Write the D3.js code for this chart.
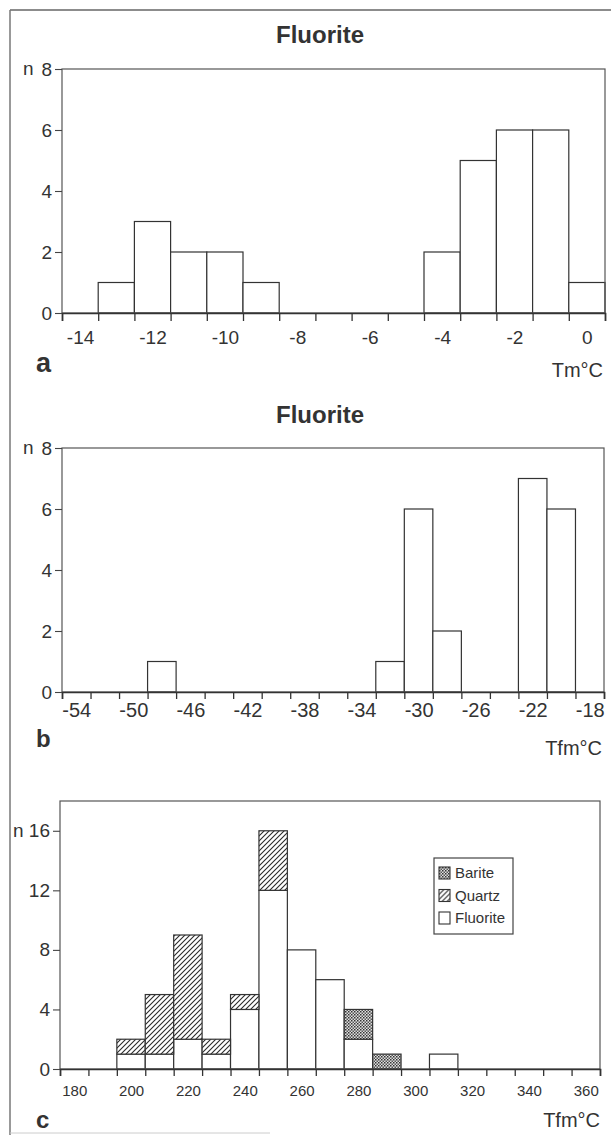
<!DOCTYPE html>
<html>
<head>
<meta charset="utf-8">
<script src="https://cdn.jsdelivr.net/npm/d3@7"></script>
<style>
body{margin:0;background:#fff;}
svg{display:block;}
text{font-family:"Liberation Sans",Arial,sans-serif;fill:#333;}
</style>
</head>
<body>
<script>
// panel a : Tm of fluorite inclusions
var aBins=[-14,-13,-12,-11,-10,-9,-8,-7,-6,-5,-4,-3,-2,-1,0];
var aCounts=[0,1,3,2,2,1,0,0,0,0,2,5,6,6,1];
var aLabels=[-14,-12,-10,-8,-6,-4,-2,0];
var aYTicks=[0,2,4,6,8];

// panel b : Tfm of fluorite inclusions
var bBins=[-54,-52,-50,-48,-46,-44,-42,-40,-38,-36,-34,-32,-30,-28,-26,-24,-22,-20,-18];
var bCounts=[0,0,0,1,0,0,0,0,0,0,0,1,6,2,0,0,7,6,0];
var bLabels=[-54,-50,-46,-42,-38,-34,-30,-26,-22,-18];
var bYTicks=[0,2,4,6,8];

// panel c : stacked by host mineral
var cBins=[180,190,200,210,220,230,240,250,260,270,280,290,300,310,320,330,340,350,360];
var cFluorite=[0,0,1,1,2,1,4,12,8,6,2,0,0,1,0,0,0,0,0];
var cQuartz=[0,0,1,4,7,1,1,4,0,0,0,0,0,0,0,0,0,0,0];
var cBarite=[0,0,0,0,0,0,0,0,0,0,2,1,0,0,0,0,0,0,0];
var cLabels=[180,200,220,240,260,280,300,320,340,360];
var cYTicks=[0,4,8,12,16];
var cSeries=['Barite','Quartz','Fluorite'];

var W=611,H=1135;
var svg=d3.select('body').append('svg').attr('width',W).attr('height',H);

var defs=svg.append('defs');
// "/" hatching for quartz
var hatch=defs.append('pattern').attr('id','quartz').attr('patternUnits','userSpaceOnUse')
    .attr('width',5).attr('height',5);
hatch.append('rect').attr('width',5).attr('height',5).attr('fill','#fff');
hatch.append('path').attr('d','M0,5L5,0M-1,1L1,-1M4,6L6,4')
    .attr('stroke','#2a2a2a').attr('stroke-width',1.1);
// fine checker for barite
var check=defs.append('pattern').attr('id','barite').attr('patternUnits','userSpaceOnUse')
    .attr('width',3).attr('height',3);
check.append('rect').attr('width',3).attr('height',3).attr('fill','#e0e0e0');
check.append('rect').attr('width',1.5).attr('height',1.5).attr('fill','#333');
check.append('rect').attr('x',1.5).attr('y',1.5).attr('width',1.5).attr('height',1.5).attr('fill','#555');
var fills={Fluorite:'#fff',Quartz:'url(#quartz)',Barite:'url(#barite)'};

// outer border of the figure
svg.append('line').attr('x1',10).attr('y1',10).attr('x2',W).attr('y2',10).attr('stroke','#666').attr('stroke-width',1.3);
svg.append('line').attr('x1',10).attr('y1',10).attr('x2',10).attr('y2',H).attr('stroke','#777').attr('stroke-width',1.5);
svg.append('line').attr('x1',10).attr('y1',1133).attr('x2',270).attr('y2',1133).attr('stroke','#ccc').attr('stroke-width',1);

function panel(o){
    var w=o.bins[1]-o.bins[0];
    var x=d3.scaleLinear().domain([o.bins[0]-w/2,o.bins[o.bins.length-1]+w/2]).range([o.left,o.right]);
    var y=d3.scaleLinear().domain([0,o.ymax]).range([o.zero,o.top]);
    var g=svg.append('g');
    if(o.title){
        g.append('text').attr('x',320).attr('y',o.titleY).attr('text-anchor','middle')
            .style('font-size','24px').style('font-weight','bold').text(o.title);
    }
    // bars
    if(o.stacked){
        var table=o.bins.map(function(b,i){return {bin:b,Fluorite:cFluorite[i],Quartz:cQuartz[i],Barite:cBarite[i]};});
        var stack=d3.stack().keys(['Fluorite','Quartz','Barite'])(table);
        stack.forEach(function(s){
            g.selectAll(null).data(s.filter(function(d){return d[1]>d[0];})).enter().append('rect')
                .attr('x',function(d){return x(d.data.bin-w/2);})
                .attr('width',function(d){return x(d.data.bin+w/2)-x(d.data.bin-w/2);})
                .attr('y',function(d){return y(d[1]);})
                .attr('height',function(d){return y(d[0])-y(d[1]);})
                .attr('fill',fills[s.key]).attr('stroke','#333').attr('stroke-width',1.2);
        });
    }else{
        g.selectAll(null).data(o.bins.map(function(b,i){return {bin:b,n:o.counts[i]};}).filter(function(d){return d.n>0;}))
            .enter().append('rect')
            .attr('x',function(d){return x(d.bin-w/2);})
            .attr('width',function(d){return x(d.bin+w/2)-x(d.bin-w/2);})
            .attr('y',function(d){return y(d.n);})
            .attr('height',function(d){return y(0)-y(d.n);})
            .attr('fill','#fff').attr('stroke','#333').attr('stroke-width',1.2);
    }
    // frame
    g.append('rect').attr('x',o.left).attr('y',o.top).attr('width',o.right-o.left).attr('height',o.zero-o.top)
        .attr('fill','none').attr('stroke','#555').attr('stroke-width',1.2);
    // x ticks on bin edges
    var edges=o.bins.map(function(b){return b-w/2;}).concat([o.bins[o.bins.length-1]+w/2]);
    var xt=g.append('g').attr('transform','translate(0,'+o.zero+')')
        .call(d3.axisBottom(x).tickValues(edges).tickSize(o.tick).tickFormat(''));
    xt.select('.domain').attr('stroke','#333').attr('stroke-width',1.6);
    xt.selectAll('.tick line').attr('stroke','#333').attr('stroke-width',1.3);
    // x labels at bin centres
    var xl=g.append('g').attr('transform','translate(0,'+o.zero+')')
        .call(d3.axisBottom(x).tickValues(o.labels).tickSize(0).tickPadding(o.pad).tickFormat(function(d){return d;}));
    xl.select('.domain').remove();
    xl.selectAll('text').style('font-size',o.xfont+'px').style('font-family','"Liberation Sans",Arial,sans-serif').attr('fill','#3a3a3a');
    // y axis
    var ya=g.append('g').attr('transform','translate('+o.left+',0)')
        .call(d3.axisLeft(y).tickValues(o.yticks).tickSize(7).tickPadding(3));
    ya.select('.domain').remove();
    ya.selectAll('.tick line').attr('stroke','#444').attr('stroke-width',1.1);
    ya.selectAll('text').style('font-size','19px').style('font-family','"Liberation Sans",Arial,sans-serif').attr('fill','#3a3a3a');
    var topTick=o.yticks[o.yticks.length-1];
    g.append('text').attr('x',o.nX).attr('y',y(topTick)).attr('dy','0.32em')
        .style('font-size','19px').text('n');
    // panel letter and unit
    g.append('text').attr('x',36).attr('y',o.letterY).style('font-size',o.letterSize+'px').style('font-weight','bold').text(o.letter);
    g.append('text').attr('x',o.unitX).attr('y',o.unitY).attr('text-anchor','end').style('font-size','20px').text(o.unit);
    return {x:x,y:y,g:g};
}

panel({bins:aBins,counts:aCounts,labels:aLabels,yticks:aYTicks,ymax:8,
    left:62,right:605,top:69,zero:313,tick:8,pad:18,xfont:19,
    title:'Fluorite',titleY:43,nX:23,letter:'a',letterY:372,letterSize:27,unit:'Tm°C',unitX:603,unitY:377});

panel({bins:bBins,counts:bCounts,labels:bLabels,yticks:bYTicks,ymax:8,
    left:62,right:604,top:448,zero:692,tick:7,pad:11,xfont:20,
    title:'Fluorite',titleY:423,nX:23,letter:'b',letterY:747,letterSize:24,unit:'Tfm°C',unitX:602,unitY:755});

panel({bins:cBins,stacked:true,labels:cLabels,yticks:cYTicks,ymax:18,
    left:60,right:600,top:801,zero:1069,tick:7,pad:16,xfont:15,
    title:null,nX:13,letter:'c',letterY:1128,letterSize:24,unit:'Tfm°C',unitX:600,unitY:1127});

// legend
var lg=svg.append('g');
lg.append('rect').attr('x',434).attr('y',858).attr('width',79).attr('height',76)
    .attr('fill','#fff').attr('stroke','#444').attr('stroke-width',1.2);
lg.selectAll('g').data(cSeries).enter().append('g')
    .attr('transform',function(d,i){return 'translate(439,'+(867+i*22.5)+')';})
    .each(function(d){
        var s=d3.select(this);
        s.append('rect').attr('width',11).attr('height',12).attr('fill',fills[d]).attr('stroke','#333').attr('stroke-width',1.1);
        s.append('text').attr('x',16).attr('y',11).style('font-size','15px').text(d);
    });
</script>
</body>
</html>
